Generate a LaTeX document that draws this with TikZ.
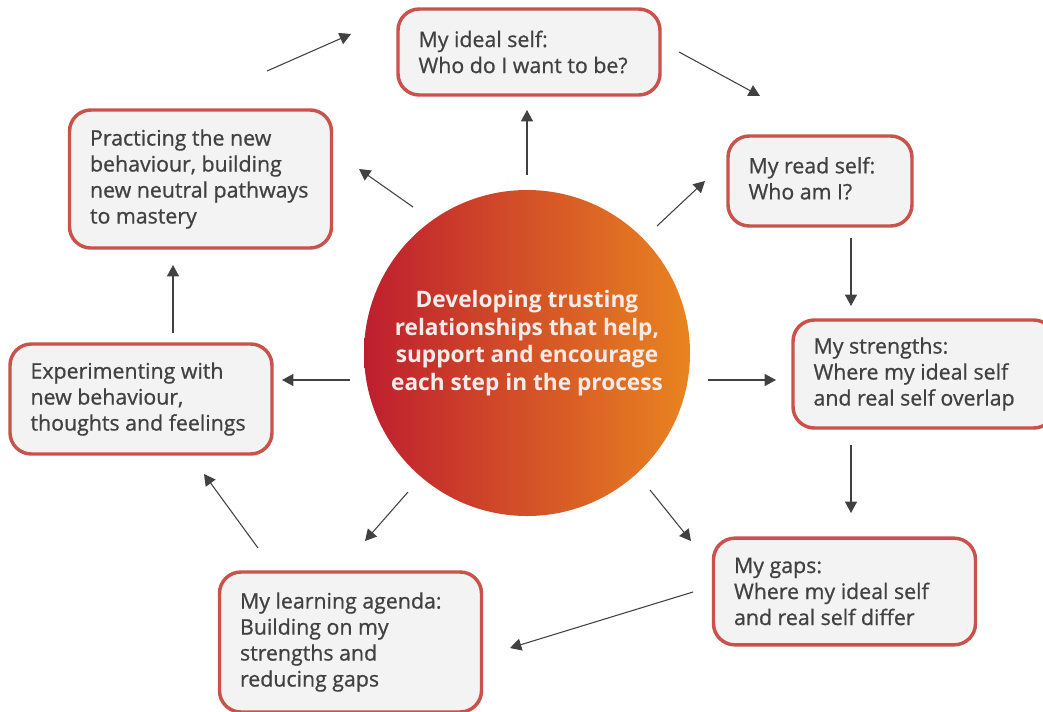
\documentclass[tikz,border=0pt]{standalone}
\usepackage{fontspec}
\setmainfont{Open Sans}[UprightFeatures={FakeBold=0.8}]
\usetikzlibrary{arrows.meta}
\definecolor{boxred}{HTML}{C9524B}
\definecolor{boxfill}{HTML}{F2F3F2}
\definecolor{inkgray}{HTML}{414141}
\definecolor{coreleft}{HTML}{BE1E2E}
\definecolor{coreright}{HTML}{E98420}
\definecolor{corefont}{HTML}{F4ECEA}

\begin{document}
\begin{tikzpicture}[x=0.75pt,y=-0.75pt]
	\tikzstyle{stepbox} = [draw=boxred, line width=2.6pt, fill=boxfill, rounded corners=16pt, minimum width=196.5pt]
	\tikzstyle{steptext} = [anchor=west, align=left, inner sep=0pt, text=inkgray, font=\fontsize{16}{19.5}\selectfont]
	\tikzstyle{flow} = [draw=inkgray, line width=0.8pt, -{Triangle[length=8.5pt,width=9pt]}]

	\useasboundingbox (0,0) rectangle (1043,711);
	\clip (0,0) rectangle (1043,711);

	% centre circle
	\node[circle, minimum size=244.5pt, inner sep=0pt, left color=coreleft, right color=coreright, shading angle=90] (core) at (527,353) {};
	\node[align=center, text=corefont, font=\fontsize{17}{20.6}\selectfont\bfseries] (coretext) at (527,343) {Developing trusting\\relationships that help,\\support and encourage\\each step in the process};

	% the seven steps
	\node[stepbox, minimum height=64.5pt] (ideal) at (529,52) {};
	\node[stepbox, minimum width=138pt, minimum height=67.5pt] (real) at (820,181) {};
	\node[stepbox, minimum height=81pt] (strong) at (924,374) {};
	\node[stepbox, minimum height=80pt] (gaps) at (844.5,591.5) {};
	\node[stepbox, minimum height=105pt] (agenda) at (350.5,642) {};
	\node[stepbox, minimum height=82.5pt] (exper) at (141,399) {};
	\node[stepbox, minimum height=103.5pt] (pract) at (200.5,179) {};

	\node[steptext] (idealtext) at ([xshift=16.5pt]ideal.west) {My ideal self:\\Who do I want to be?};
	\node[steptext] (realtext) at ([xshift=16.5pt,yshift=2pt]real.west) {My read self:\\Who am I?};
	\node[steptext] (strongtext) at ([xshift=16.5pt]strong.west) {My strengths:\\Where my ideal self\\and real self overlap};
	\node[steptext] (gapstext) at ([xshift=16.5pt]gaps.west) {My gaps:\\Where my ideal self\\and real self differ};
	\node[steptext] (agendatext) at ([xshift=16.5pt]agenda.west) {My learning agenda:\\Building on my\\strengths and\\reducing gaps};
	\node[steptext] (expertext) at ([xshift=16.5pt]exper.west) {Experimenting with\\new behaviour,\\thoughts and feelings};
	\node[steptext] (practtext) at ([xshift=16.5pt]pract.west) {Practicing the new\\behaviour, building\\new neutral pathways\\to mastery};

	% arrow ends
	\coordinate (coreN) at (527,175); \coordinate (idealS) at (527,110);
	\coordinate (coreNE) at (657,226); \coordinate (realSW) at (705,181);
	\coordinate (coreE) at (708,380); \coordinate (strongW) at (776,380);
	\coordinate (coreSE) at (650,490); \coordinate (gapsNW) at (691,541);
	\coordinate (coreSW) at (408,492); \coordinate (agendaNE) at (365,541);
	\coordinate (coreW) at (350,380); \coordinate (experE) at (282,380);
	\coordinate (coreNW) at (413,207); \coordinate (practSE) at (359,169);
	\coordinate (practNE) at (267,71); \coordinate (idealW) at (351,34);
	\coordinate (idealE) at (679,52); \coordinate (realNW) at (760,96);
	\coordinate (realS) at (851,238); \coordinate (strongN) at (851,306);
	\coordinate (strongS) at (851,445); \coordinate (gapsN) at (851,513);
	\coordinate (gapsW) at (693,592); \coordinate (agendaE) at (510,648);
	\coordinate (agendaNW) at (258,548); \coordinate (experN) at (204,474);
	\coordinate (experNN) at (173,333); \coordinate (practS) at (173,265);

	% out from the centre
	\draw[flow] (coreN) -- (idealS);
	\draw[flow] (coreNE) -- (realSW);
	\draw[flow] (coreE) -- (strongW);
	\draw[flow] (coreSE) -- (gapsNW);
	\draw[flow] (coreSW) -- (agendaNE);
	\draw[flow] (coreW) -- (experE);
	\draw[flow] (coreNW) -- (practSE);

	% round the cycle
	\draw[flow] (practNE) -- (idealW);
	\draw[flow] (idealE) -- (realNW);
	\draw[flow] (realS) -- (strongN);
	\draw[flow] (strongS) -- (gapsN);
	\draw[flow] (gapsW) -- (agendaE);
	\draw[flow] (agendaNW) -- (experN);
	\draw[flow] (experNN) -- (practS);
\end{tikzpicture}
\end{document}
